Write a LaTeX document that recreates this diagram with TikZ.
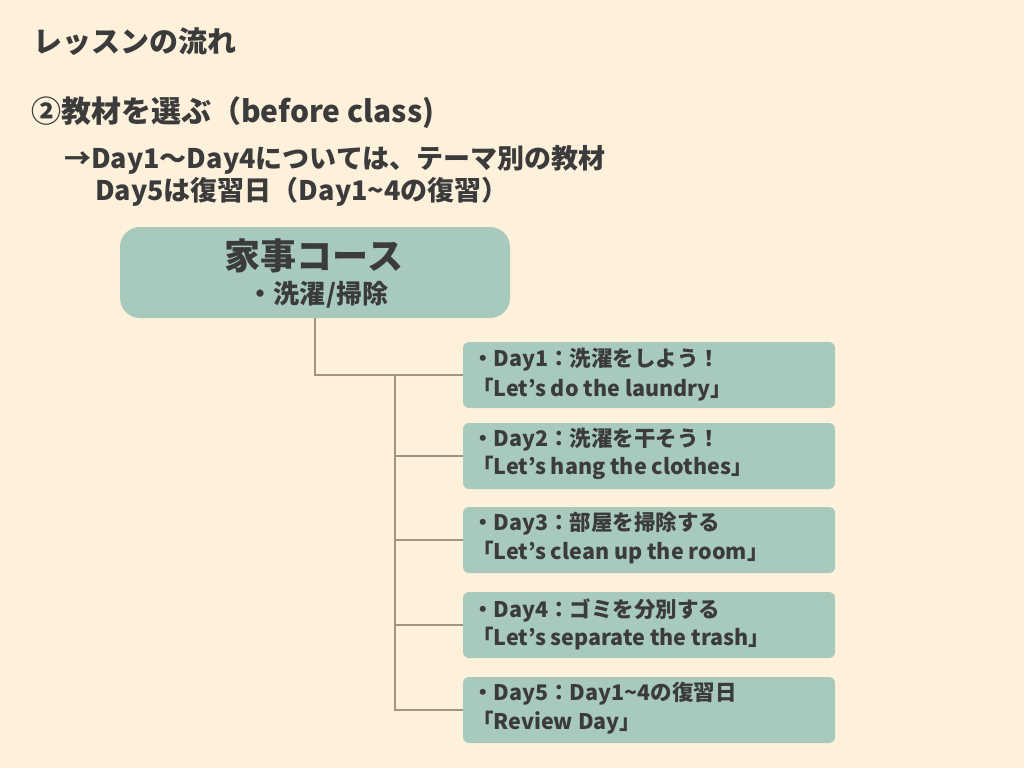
\documentclass[tikz,border=0pt]{standalone}
\usepackage{fontspec}
\setmainfont{Noto Sans CJK JP}
\usetikzlibrary{positioning}
\definecolor{bg}{HTML}{FDF1DC}
\definecolor{boxfill}{HTML}{A8CABD}
\definecolor{ink}{HTML}{3B3B3B}
\definecolor{wire}{HTML}{A09585}
\begin{document}
\begin{tikzpicture}[x=1pt, y=-1pt,
    course/.style={fill=boxfill, rounded corners=20pt, minimum width=390pt, minimum height=91pt, inner sep=0pt},
    day/.style={fill=boxfill, rounded corners=6pt, minimum width=372pt, minimum height=66pt, inner sep=0pt},
    txt/.style={text=ink, anchor=west, inner sep=0pt, font=\bfseries},
    wire/.style={draw=wire, line width=1.4pt} % 線のスタイル
    ]
\fill[bg] (0,0) rectangle (1024,768);

% 見出し
\node[txt, font=\bfseries\fontsize{29}{34}\selectfont] (title) at (33,42) {レッスンの流れ};
\node[txt, font=\bfseries\fontsize{30}{35}\selectfont] (step) at (31,113) {②教材を選ぶ（before class)};
\node[txt, font=\bfseries\fontsize{27}{32}\selectfont] (note1) at (64,160) {→Day1〜Day4については、テーマ別の教材};
\node[txt, font=\bfseries\fontsize{27}{32}\selectfont] (note2) at (95,192) {Day5は復習日（Day1\textasciitilde4の復習）};

% コース
\node[course] (course) at (315,272.5) {};
\node[text=ink, font=\bfseries\fontsize{36}{40}\selectfont] (cname) at (314,256) {家事コース};
\node[text=ink, font=\bfseries\fontsize{26}{30}\selectfont] (ctopic) at (318,295) {・洗濯/掃除};

% 各Day
\node[day] (d1) at (649,375) {};
\node[txt, font=\bfseries\fontsize{21.5}{25}\selectfont] (d1a) at (472,360) {・Day1：洗濯をしよう！};
\node[txt, font=\bfseries\fontsize{21.5}{25}\selectfont] (d1b) at (472,390) {「Let’s do the laundry」};

\node[day] (d2) at (649,456) {};
\node[txt, font=\bfseries\fontsize{21.5}{25}\selectfont] (d2a) at (472,440) {・Day2：洗濯を干そう！};
\node[txt, font=\bfseries\fontsize{21.5}{25}\selectfont] (d2b) at (472,468) {「Let’s hang the clothes」};

\node[day] (d3) at (649,540) {};
\node[txt, font=\bfseries\fontsize{21.5}{25}\selectfont] (d3a) at (472,524) {・Day3：部屋を掃除する};
\node[txt, font=\bfseries\fontsize{21.5}{25}\selectfont] (d3b) at (472,553) {「Let’s clean up the room」};

\node[day] (d4) at (649,625) {};
\node[txt, font=\bfseries\fontsize{21.5}{25}\selectfont] (d4a) at (472,610) {・Day4：ゴミを分別する};
\node[txt, font=\bfseries\fontsize{21.5}{25}\selectfont] (d4b) at (472,639) {「Let’s separate the trash」};

\node[day] (d5) at (649,710) {};
\node[txt, font=\bfseries\fontsize{21.5}{25}\selectfont] (d5a) at (472,694) {・Day5：Day1\textasciitilde4の復習日};
\node[txt, font=\bfseries\fontsize{21.5}{25}\selectfont] (d5b) at (472,723) {「Review Day」};

% つなぐ線
\coordinate (trunk) at (395,0);
\draw[wire] (course.south) |- (d1.west);
\draw[wire] (trunk |- d1.west) |- (d5.west);
\draw[wire] (trunk |- d2.west) -- (d2.west);
\draw[wire] (trunk |- d3.west) -- (d3.west);
\draw[wire] (trunk |- d4.west) -- (d4.west);
\end{tikzpicture}
\end{document}
